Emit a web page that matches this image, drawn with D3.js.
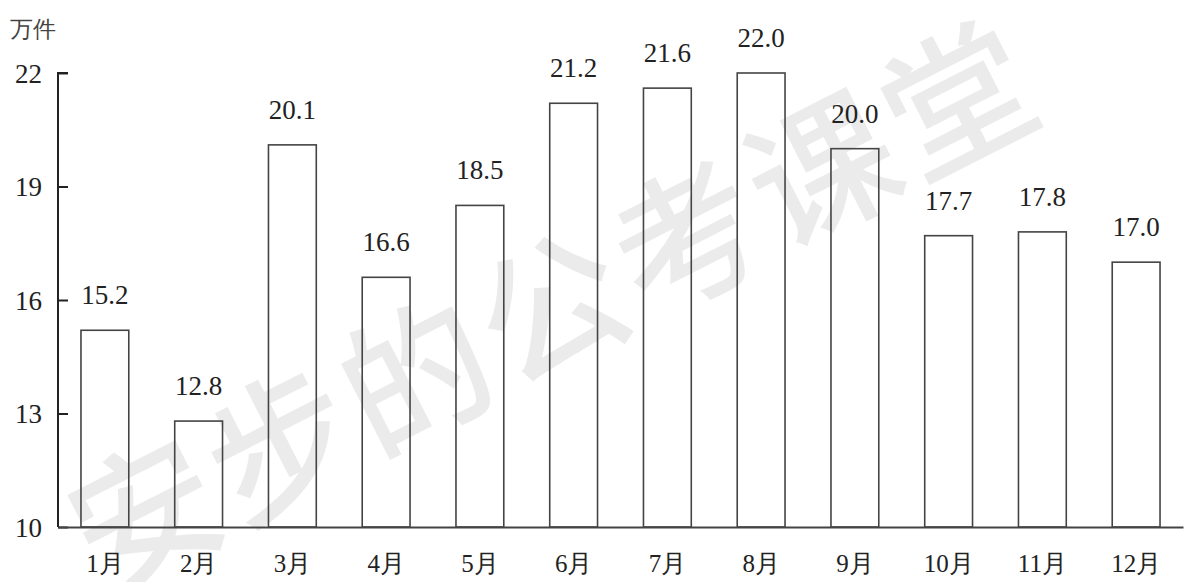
<!DOCTYPE html>
<html>
<head>
<meta charset="utf-8">
<script src="https://cdn.jsdelivr.net/npm/d3@7"></script>
<style>
  body { margin: 0; background: #fff; }
</style>
</head>
<body>
<div id="chart"></div>
<script>
// data
const months = ["1月","2月","3月","4月","5月","6月","7月","8月","9月","10月","11月","12月"];
const values = [15.2, 12.8, 20.1, 16.6, 18.5, 21.2, 21.6, 22.0, 20.0, 17.7, 17.8, 17.0];
const yTicks = [10, 13, 16, 19, 22];
const unitLabel = "万件";
const watermark = "安步的公考课堂";

var W = 1191, H = 582;
var margin = {top: 73, bottom: 55, left: 58, right: 8};
var width = W - margin.left - margin.right,
    height = H - margin.top - margin.bottom;

var serif = "Liberation Serif";

var svg = d3.select("#chart").append("svg")
  .attr("width", W)
  .attr("height", H);

// watermark behind everything
svg.append("text")
  .attr("transform", "translate(550,298) rotate(-27)")
  .attr("text-anchor", "middle")
  .attr("dominant-baseline", "central")
  .style("font-family", "Noto Sans CJK SC")
  .style("font-size", "146px")
  .style("font-weight", 500)
  .style("letter-spacing", "6px")
  .attr("fill", "#ebebeb")
  .text(watermark);

var g = svg.append("g")
  .attr("transform", "translate(" + margin.left + "," + margin.top + ")");

let xScale = d3.scaleBand()
  .domain(months)
  .range([0, width])
  .paddingInner(0.49)
  .paddingOuter(0.245);

let yScale = d3.scaleLinear()
  .domain([10, 22])
  .range([height, 0]);

// bars
g.selectAll(".bar")
  .data(values)
  .enter().append("rect")
  .attr("class", "bar")
  .attr("x", (d, i) => xScale(months[i]))
  .attr("y", d => yScale(d))
  .attr("width", xScale.bandwidth())
  .attr("height", d => height - yScale(d))
  .attr("fill", "none")
  .attr("stroke", "#444")
  .attr("stroke-width", 1.6);

// value labels
g.selectAll(".val")
  .data(values)
  .enter().append("text")
  .attr("x", (d, i) => xScale(months[i]) + xScale.bandwidth() / 2)
  .attr("y", d => yScale(d) - 26)
  .attr("text-anchor", "middle")
  .style("font-family", serif)
  .style("font-size", "27px")
  .attr("fill", "#222")
  .text(d => d.toFixed(1));

// y axis, ticks pointing inward
var yAxis = g.append("g")
  .call(d3.axisRight(yScale).tickValues(yTicks).tickSize(10).tickFormat(d3.format("d")));
yAxis.select(".domain").attr("d", "M0," + height + "V0H10").attr("stroke", "#222").attr("stroke-width", 2);
yAxis.selectAll(".tick line").attr("stroke", "#222").attr("stroke-width", 2);
yAxis.selectAll(".tick text")
  .attr("x", -16)
  .attr("dy", "0.34em")
  .attr("text-anchor", "end")
  .style("font-family", serif)
  .style("font-size", "27px")
  .attr("fill", "#222");

// x axis
var xAxis = g.append("g")
  .attr("transform", "translate(0," + height + ")")
  .call(d3.axisBottom(xScale).tickSize(0).tickPadding(27));
xAxis.select(".domain").attr("stroke", "#444").attr("stroke-width", 2);
xAxis.selectAll(".tick text")
  .style("font-family", serif)
  .style("font-size", "25px")
  .attr("fill", "#222");

// unit label
svg.append("text")
  .attr("x", 10)
  .attr("y", 37)
  .style("font-family", serif)
  .style("font-size", "23px")
  .attr("fill", "#444")
  .text(unitLabel);
</script>
</body>
</html>
